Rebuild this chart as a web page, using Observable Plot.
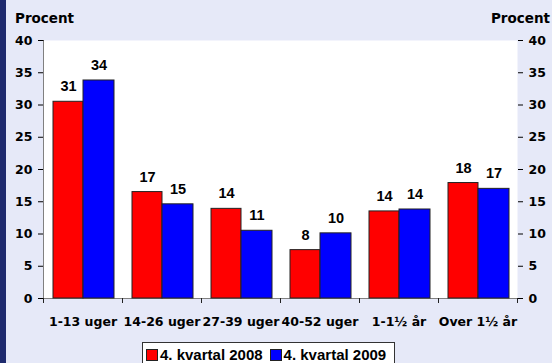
<!DOCTYPE html>
<html>
<head>
<meta charset="utf-8">
<script src="https://cdn.jsdelivr.net/npm/d3@7"></script>
<script src="https://cdn.jsdelivr.net/npm/@observablehq/plot@0.6"></script>
<style>
html, body { margin: 0; padding: 0; background: #e6e9f8; }
#wrap { position: relative; width: 552px; height: 363px; overflow: hidden; background: #e6e9f8; color: #000; }
#strip { position: absolute; left: 0; top: 0; width: 6px; height: 363px; background: #1e2a6e; }
.unit { position: absolute; top: 11px; font-family: "DejaVu Sans", sans-serif; font-weight: bold; font-size: 13.5px; line-height: 14px; }
#chart { position: absolute; left: 0; top: 0; }
#legend { position: absolute; left: 142px; top: 342px; width: 253px; height: 28px; background: #fff; border: 1px solid #333; box-sizing: border-box;
  font-family: "Liberation Sans", Arial, sans-serif; font-weight: bold; font-size: 15px; display: flex; flex-wrap: nowrap; align-items: flex-start; padding: 3px 0 0 3px; white-space: nowrap; }
.item { display: flex; align-items: center; flex-shrink: 0; margin-right: 7px; line-height: 17px; white-space: nowrap; }
.sw { width: 10px; height: 10px; border: 1px solid #222; margin-right: 2px; flex-shrink: 0; }
</style>
</head>
<body>
<div id="wrap">
  <div id="strip"></div>
  <div class="unit" style="left:15px">Procent</div>
  <div class="unit" style="right:2px">Procent</div>
  <div id="chart"></div>
  <div id="legend"></div>
</div>
<script>
const categories = ["1-13 uger", "14-26 uger", "27-39 uger", "40-52 uger", "1-1½ år", "Over 1½ år"];
const series = ["4. kvartal 2008", "4. kvartal 2009"];
const values2008 = [30.5, 16.5, 13.9, 7.5, 13.5, 17.9];
const values2009 = [33.8, 14.6, 10.5, 10.1, 13.8, 17.0];
const yTicks = [0, 5, 10, 15, 20, 25, 30, 35, 40];
const colors = ["#ff0000", "#0000ff"];

const rows2008 = categories.map((c, i) => ({category: c, value: values2008[i], label: String(Math.round(values2008[i]))}));
const rows2009 = categories.map((c, i) => ({category: c, value: values2009[i], label: String(Math.round(values2009[i]))}));

const labelFont = {fontFamily: "Liberation Sans, Arial, sans-serif", fontSize: 14.5, fontWeight: "bold", fill: "#000"};

const chart = Plot.plot({
  width: 552,
  height: 340,
  marginLeft: 43,
  marginRight: 35,
  marginTop: 40,
  marginBottom: 42,
  style: {background: "transparent", fontFamily: "DejaVu Sans, sans-serif", fontWeight: "bold", fontSize: "12.5px", color: "#000", overflow: "visible"},
  x: {domain: categories, padding: 0, tickSize: 0, tickPadding: 19, line: true, label: null},
  y: {domain: [0, 40], ticks: yTicks, axis: "both", tickSize: 5, tickPadding: 6, line: true, label: null},
  marks: [
    Plot.frame({fill: "white", stroke: null}),
    Plot.barY(rows2008, {x: "category", y: "value", fill: colors[0], stroke: "#222", strokeWidth: 1, insetLeft: 10, insetRight: 39}),
    Plot.barY(rows2009, {x: "category", y: "value", fill: colors[1], stroke: "#222", strokeWidth: 1, insetLeft: 40, insetRight: 8}),
    Plot.text(rows2008, {x: "category", y: "value", text: "label", dx: -14.5, dy: -15, ...labelFont}),
    Plot.text(rows2009, {x: "category", y: "value", text: "label", dx: 16, dy: -15, ...labelFont})
  ]
});

// move white plot background behind the axes
const fr = chart.querySelector('[aria-label="frame"]');
if (fr) chart.insertBefore(fr, chart.firstChild);

// tick marks at the category boundaries, from the x scale
const xs = chart.scale("x");
const ys = chart.scale("y");
const y0 = ys.apply(0);
const edges = categories.map(c => xs.apply(c)).concat([xs.apply(categories[categories.length - 1]) + xs.bandwidth]);
d3.select(chart).append("g").attr("stroke", "#222")
  .selectAll("line").data(edges).join("line")
  .attr("x1", d => d + 0.5).attr("x2", d => d + 0.5).attr("y1", y0).attr("y2", y0 + 5);

document.getElementById("chart").appendChild(chart);

const legend = document.getElementById("legend");
series.forEach((s, i) => {
  const it = document.createElement("div");
  it.className = "item";
  const sw = document.createElement("div");
  sw.className = "sw";
  sw.style.background = colors[i];
  const t = document.createElement("span");
  t.textContent = s;
  it.appendChild(sw);
  it.appendChild(t);
  legend.appendChild(it);
});
</script>
</body>
</html>
